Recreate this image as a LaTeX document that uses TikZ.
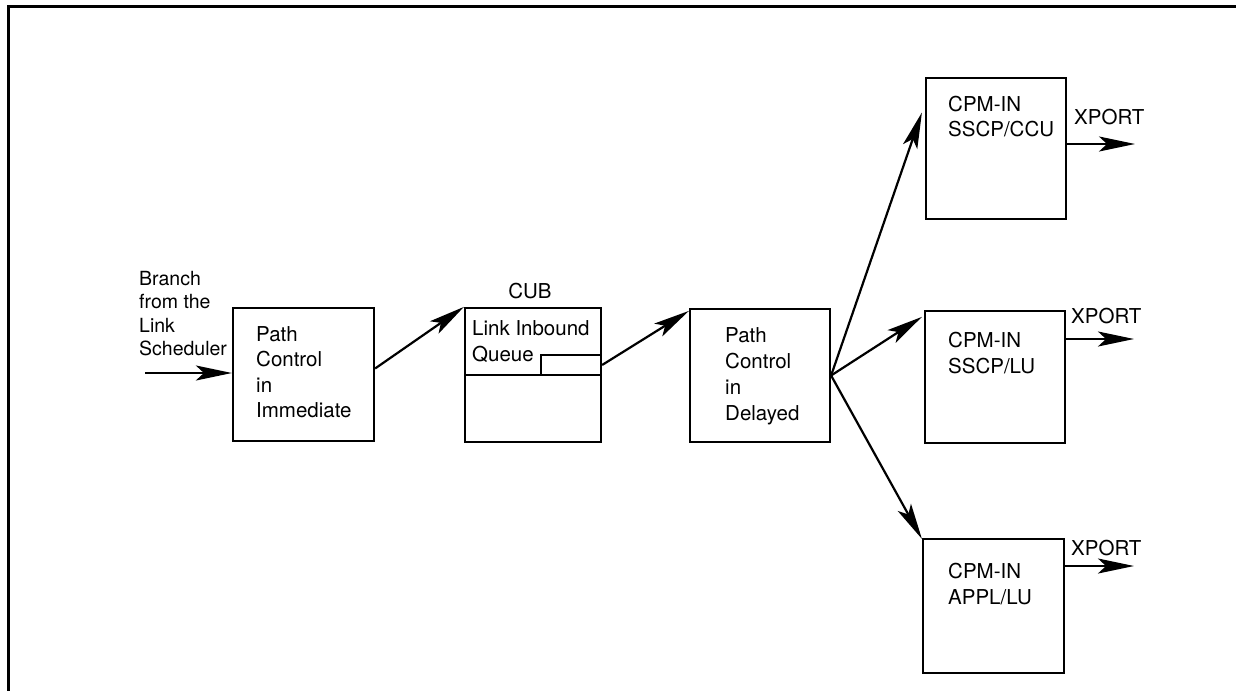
\documentclass[tikz,border=0pt]{standalone}
\usepackage{fontspec}
\setmainfont{TeX Gyre Heros}
\usetikzlibrary{arrows.meta}
\begin{document}
\begin{tikzpicture}[x=1pt,y=-1pt,
  box/.style={draw,line width=2.2pt,inner sep=0pt},
  lbl/.style={anchor=north west,inner sep=0pt,align=left,
    font=\fontsize{20.5}{25.5}\selectfont},
  flow/.style={line width=2.2pt,
    -{Stealth[length=36pt,width=15pt,inset=8pt]}}]
\useasboundingbox (0,0) rectangle (1236,691);
% page frame (top and left rules)
\draw[line width=3pt] (1236,6) -- (8,6) -- (8,691);

% boxes
\node[box,minimum width=141pt,minimum height=133pt] (b1) at (303.5,374.5) {};
\node[box,minimum width=136pt,minimum height=134pt] (cub) at (533,375) {};
\node[box,minimum width=140pt,minimum height=133pt] (b3) at (760,375.5) {};
\node[box,minimum width=140pt,minimum height=141pt] (b4) at (996,148.5) {};
\node[box,minimum width=140pt,minimum height=132pt] (b5) at (995,377) {};
\node[box,minimum width=141pt,minimum height=134pt] (b6) at (993.5,606) {};

% queue compartments inside the CUB box
\coordinate (qd) at (465,375);
\coordinate (qs) at (541,355);
\draw[line width=2.2pt] (qd) -- (qd -| cub.east);
\draw[line width=2.2pt] (qs |- qd) -- (qs) -- (qs -| cub.east);

% texts
\node[lbl,font=\fontsize{19.5}{23.3}\selectfont] (tin) at (139,271) {Branch\\from the\\Link\\Scheduler};
\node[lbl] (t1) at (256,326) {Path\\Control\\in\\Immediate};
\node[font=\fontsize{20.5}{24}\selectfont,inner sep=0pt] (tcub) at (530,291) {CUB};
\node[lbl,font=\fontsize{20.5}{26}\selectfont] (t2) at (472,320) {Link Inbound\\Queue};
\node[lbl,font=\fontsize{20.5}{26}\selectfont] (t3) at (725,327) {Path\\Control\\in\\Delayed};
\node[lbl,font=\fontsize{20.5}{25}\selectfont] (t4) at (948,96) {CPM-IN\\SSCP/CCU};
\node[lbl,font=\fontsize{20.5}{26}\selectfont] (t5) at (948,332) {CPM-IN\\SSCP/LU};
\node[lbl,font=\fontsize{20.5}{26}\selectfont] (t6) at (948,563) {CPM-IN\\APPL/LU};
\node[lbl] (x1) at (1074,109) {XPORT};
\node[lbl] (x2) at (1071,308) {XPORT};
\node[lbl] (x3) at (1071,540) {XPORT};

% connectors
\coordinate (src) at (145,373);
\draw[flow] (src) -- (src -| b1.west);
\draw[flow] ([yshift=6pt]b1.east) -- (cub.north west);
\draw[flow] ([yshift=10pt]cub.east) -- ([yshift=-3pt]b3.north west);
\draw[flow] (b3.east) -- ([yshift=36pt,xshift=-3pt]b4.west);
\draw[flow] (b3.east) -- ([yshift=-7pt,xshift=-2pt]b5.north west);
\draw[flow] (b3.east) -- ([yshift=-1pt]b6.north west);

\coordinate (e1) at (1135,144);
\coordinate (e2) at (1134,339);
\coordinate (e3) at (1134,566);
\draw[flow] (e1 -| b4.east) -- (e1);
\draw[flow] (e2 -| b5.east) -- (e2);
\draw[flow] (e3 -| b6.east) -- (e3);
\end{tikzpicture}
\end{document}
